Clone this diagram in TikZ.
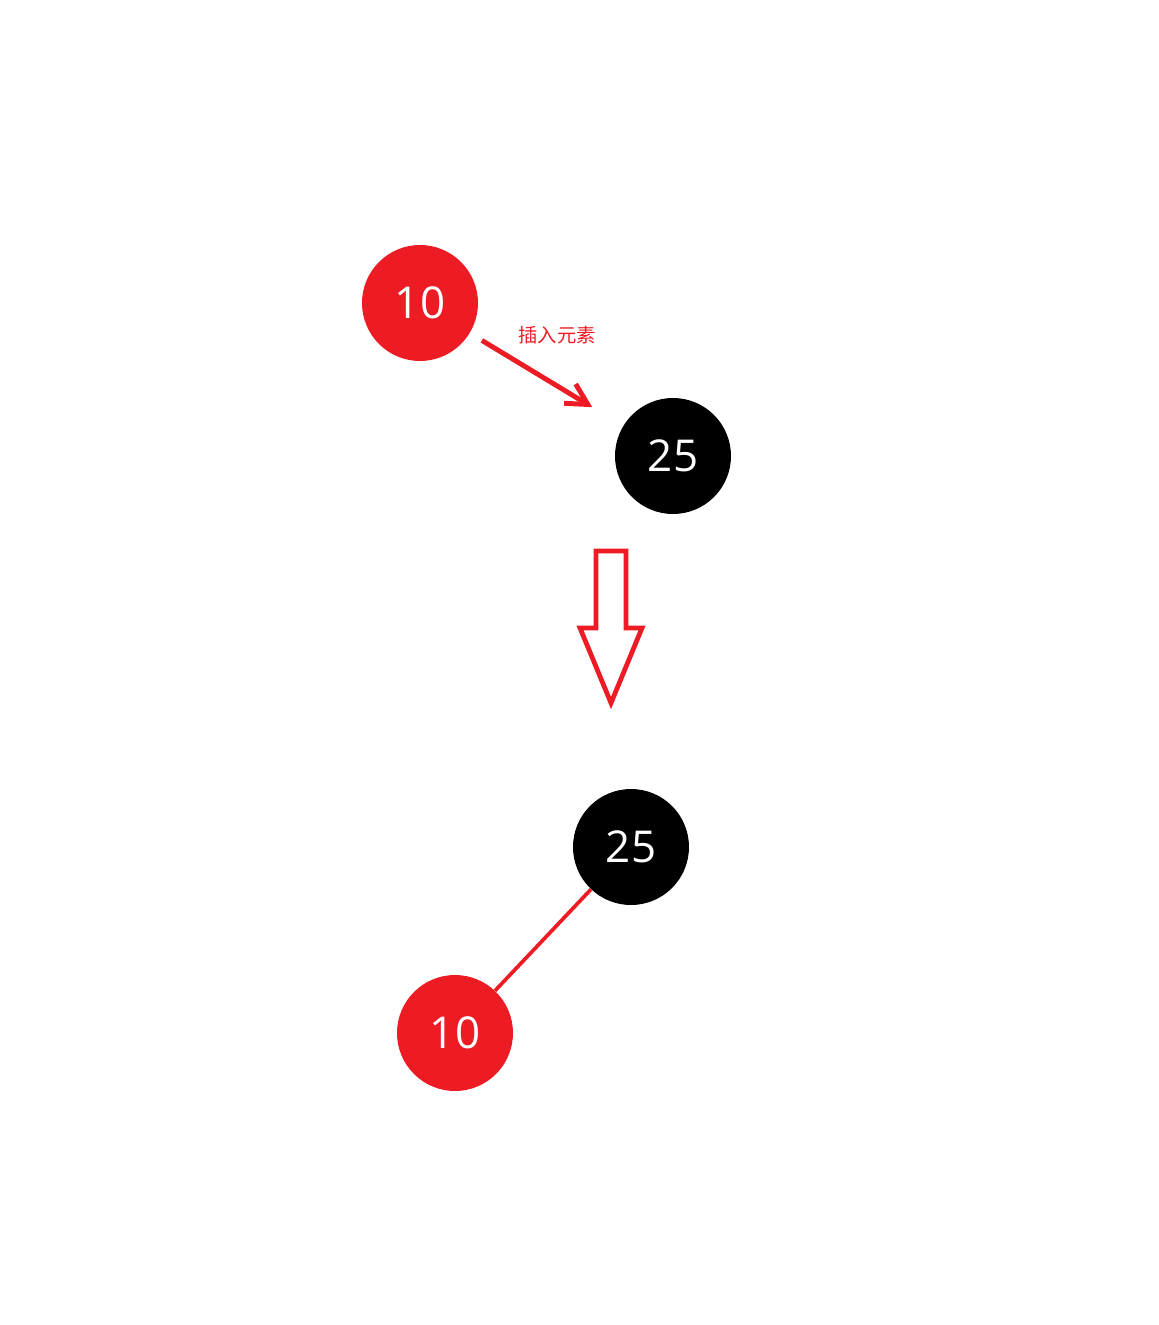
\documentclass[tikz,border=0pt]{standalone}
\usepackage{fontspec}
\setmainfont{Open Sans}
\newfontfamily\cjk{Noto Sans CJK SC}
\usetikzlibrary{arrows.meta}
\definecolor{rbred}{HTML}{ED1C24}
\begin{document}
\begin{tikzpicture}[x=0.02cm, y=-0.02cm,
    rednode/.style={circle, fill=rbred, text=white, minimum size=2.32cm, inner sep=0pt, font=\fontsize{25}{28}\selectfont},
    blacknode/.style={circle, fill=black, text=white, minimum size=2.32cm, inner sep=0pt, font=\fontsize{25}{28}\selectfont}]
\useasboundingbox (0,0) rectangle (1159,1325);
% before insertion
\node[rednode] (top10) at (420,303) {10};
\node[blacknode] (top25) at (673,456) {25};
\draw[rbred, line width=2.8pt, shorten <=0.28cm, shorten >=0.72cm,
    -{Straight Barb[length=0.42cm, width=0.45cm]}] (top10) -- (top25);
\node[text=rbred, font=\cjk\fontsize{11}{13}\selectfont] (insert) at (557,335) {插入元素};
% big arrow
\draw[rbred, line width=2.7pt, line join=miter] (596,551) -- (626,551) -- (626,628) -- (642,628)
    -- (611,703) -- (580,628) -- (596,628) -- cycle;
% after insertion
\node[blacknode] (bot25) at (631,847) {25};
\node[rednode] (bot10) at (455,1033) {10};
\draw[rbred, line width=2.1pt] (bot25) -- (bot10);
\end{tikzpicture}
\end{document}
